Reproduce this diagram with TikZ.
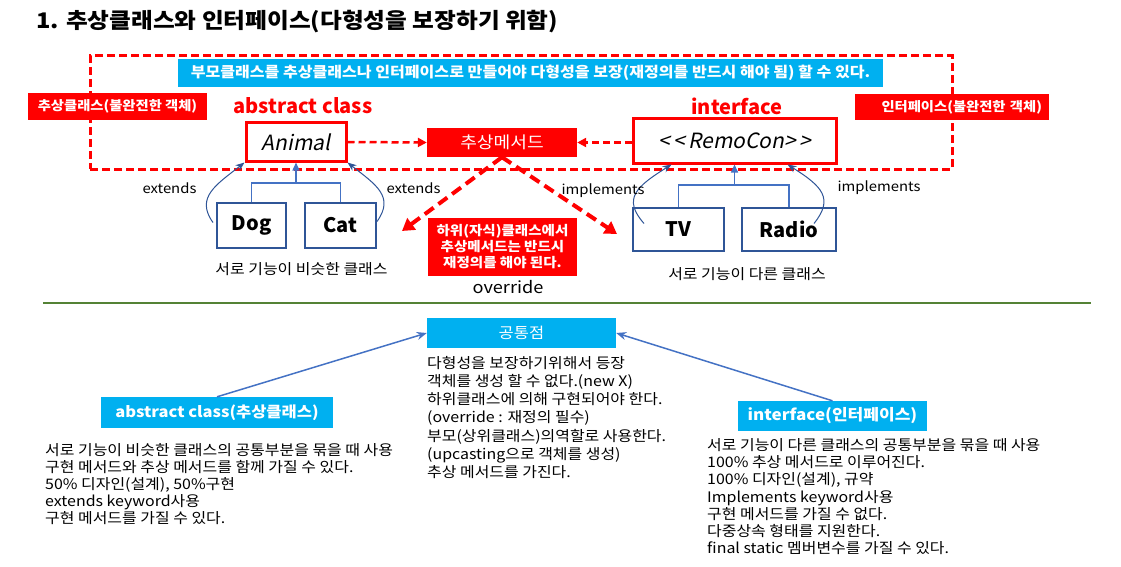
\documentclass[tikz,border=0pt]{standalone}
\usepackage{fontspec}
\setmainfont{Noto Sans CJK KR}[FakeStretch=1.1,ItalicFont={Noto Sans CJK KR},ItalicFeatures={FakeSlant=0.2},BoldItalicFeatures={FakeSlant=0.2}]
\newfontfamily\latfont{Noto Sans CJK KR}[ItalicFont={Noto Sans CJK KR},ItalicFeatures={FakeSlant=0.2},BoldItalicFeatures={FakeSlant=0.2}]
\usetikzlibrary{arrows.meta,calc}
\definecolor{pptred}{RGB}{255,0,0}
\definecolor{pptblue}{RGB}{0,176,240}
\definecolor{boxblue}{RGB}{47,85,151}
\definecolor{linkblue}{RGB}{68,114,196}
\definecolor{sepgreen}{RGB}{84,130,53}
\newcommand\fsz[2]{\fontsize{#1pt}{#2pt}\selectfont}
\begin{document}
\begin{tikzpicture}[x=1pt,y=-1pt,
  plain/.style={inner sep=0pt,text=black},
  redlabel/.style={fill=pptred,text=white,inner sep=0pt,font=\fsz{13}{16}\bfseries},
  bluelabel/.style={fill=pptblue,text=white,inner sep=0pt},
  classbox/.style={draw=pptred,line width=3pt,fill=white,inner sep=0pt,font=\latfont\fsz{21}{24}\itshape},
  subbox/.style={draw=boxblue,line width=2pt,fill=white,inner sep=0pt,font=\latfont\fsz{20}{24}\bfseries},
  frame/.style={draw=pptred,line width=3pt,dash pattern=on 8pt off 4pt,inner sep=0pt},
  reddash/.style={draw=pptred,line width=2.5pt,dash pattern=on 7pt off 4pt,-{Triangle[length=9pt,width=9pt]}},
  bigdash/.style={draw=pptred,line width=4pt,dash pattern=on 11pt off 6pt,-{Triangle[length=12pt,width=14pt]}},
  tree/.style={draw=linkblue,line width=1.5pt},
  treearrow/.style={draw=linkblue,line width=1.5pt,-{Triangle[length=8pt,width=7pt]}},
  curvearrow/.style={draw=boxblue,line width=1pt,-{Stealth[length=9pt,width=7pt]}},
  linkarrow/.style={draw=linkblue,line width=1.5pt,-{Stealth[length=10pt,width=8pt]}},
  body/.style={plain,align=left,anchor=north west}
]
\path[use as bounding box] (0,0) rectangle (1121,567);

% title
\node[plain,anchor=west,font=\fsz{21.5}{25}\bfseries] (title) at (36,22) {1. 추상클래스와 인터페이스(다형성을 보장하기 위함)};

% frame and banner
\node[frame,minimum width=862pt,minimum height=113pt] (frame) at (521,112.5) {};
\node[bluelabel,minimum width=705pt,minimum height=28pt,font=\fsz{14.6}{17}\bfseries] (banner) at (530.5,73) {부모클래스를 추상클래스나 인터페이스로 만들어야 다형성을 보장(재정의를 반드시 해야 됨) 할 수 있다.};
\node[redlabel,minimum width=179pt,minimum height=27pt] (lablabel) at (117.5,106.5) {추상클래스(불완전한 객체)};
\node[redlabel,minimum width=194pt,minimum height=26pt,text width=180pt,align=right] (riflabel) at (952,107) {인터페이스(불완전한 객체)};

\node[plain,text=pptred,font=\latfont\fsz{20}{23}\bfseries] (abstitle) at (303,106) {abstract class};
\node[plain,text=pptred,font=\latfont\fsz{20}{23}\bfseries] (iftitle) at (737,106) {interface};

\node[classbox,minimum width=100pt,minimum height=38pt] (animal) at (296,142) {Animal};
\node[fill=pptred,text=white,inner sep=0pt,minimum width=150pt,minimum height=29pt,font=\fsz{16.5}{20}] (absmeth) at (502,142.5) {추상메서드};
\node[classbox,minimum width=203pt,minimum height=44pt] (remocon) at (734.5,141) {<\,<\,RemoCon>\,>};

\draw[reddash] (animal.east) -- (absmeth.west);
\draw[reddash] (remocon.west |- absmeth.east) -- (absmeth.east);

% subclasses
\node[subbox,minimum width=69pt,minimum height=45pt] (dog) at (251.5,225.5) {Dog};
\node[subbox,minimum width=71pt,minimum height=45pt] (cat) at (340.5,225.5) {Cat};
\node[subbox,minimum width=91pt,minimum height=43pt] (tv) at (678.5,229.5) {TV};
\node[subbox,minimum width=94pt,minimum height=43pt] (radio) at (789,229.5) {Radio};

\coordinate (j1) at (296,183);
\coordinate (j2) at (734.5,185);
\draw[tree] (dog.north) |- (j1) -| (cat.north);
\draw[treearrow] (j1) -- (animal.south);
\draw[tree] (tv.north) |- (j2) -| (radio.north);
\draw[treearrow] (j2) -- (remocon.south);

\draw[curvearrow] ($(dog.west)+(-3,-3)$) .. controls +(-18,-25) and +(-28,22) .. (animal.south west);
\draw[curvearrow] ($(cat.east)+(0,-4)$) .. controls +(18,-25) and +(28,22) .. (animal.south east);
\draw[curvearrow] ($(tv.west)+(12,-6)$) .. controls +(-22,-25) and +(-35,22) .. ($(remocon.south west)+(40,0)$);
\draw[curvearrow] ($(radio.east)+(-23,-6)$) .. controls +(20,-25) and +(35,22) .. ($(remocon.south east)+(-50,0)$);

\node[plain,font=\fsz{13.5}{16}] (ext1) at (169.5,188) {extends};
\node[plain,font=\fsz{13.5}{16}] (ext2) at (413.5,188) {extends};
\node[plain,font=\fsz{13.5}{16}] (imp1) at (603,191) {implements};
\node[plain,font=\fsz{13.5}{16}] (imp2) at (879,188) {implements};

\node[plain,font=\fsz{14.5}{17}] (simcls) at (301.5,269) {서로 기능이 비슷한 클래스};
\node[plain,font=\fsz{14.5}{17}] (difcls) at (747,274) {서로 기능이 다른 클래스};

% override note
\node[fill=pptred,text=white,inner sep=0pt,minimum width=149pt,minimum height=58pt,align=center,font=\fsz{13.2}{16}\bfseries] (note) at (502.5,247) {하위(자식)클래스에서\\추상메서드는 반드시\\재정의를 해야 된다.};
\node[plain,font=\fsz{16.5}{20}] (override) at (508,287) {override};

\coordinate (leftend) at (402,231);
\coordinate (rightend) at (617,234);
\draw[bigdash] (absmeth.south) -- (leftend);
\draw[bigdash] (absmeth.south) -- (rightend);

% separator
\coordinate (sepL) at (43,303);
\coordinate (sepR) at (1091,303);
\draw[sepgreen,line width=1.5pt] (sepL) -- (sepR);

% bottom part
\node[bluelabel,minimum width=189pt,minimum height=30pt,font=\fsz{15}{19}] (common) at (521.5,333) {공통점};
\node[bluelabel,minimum width=232pt,minimum height=31pt,font=\fsz{15}{19}\bfseries] (absbox) at (217,412.5) {abstract class(추상클래스)};
\node[bluelabel,minimum width=189pt,minimum height=30pt,font=\fsz{15.5}{19}\bfseries] (ifbox) at (832.5,416) {interface(인터페이스)};

\draw[linkarrow] (absbox.north) -- (common.west);
\draw[linkarrow] (ifbox.north) -- (common.east);

\node[body,font=\fsz{14.5}{18.2}] (commontext) at (427,356) {다형성을 보장하기위해서 등장\\객체를 생성 할 수 없다.(new X)\\하위클래스에 의해 구현되어야 한다.\\(override : 재정의 필수)\\부모(상위클래스)의역할로 사용한다.\\(upcasting으로 객체를 생성)\\추상 메서드를 가진다.};

\node[body,font=\fsz{14.5}{17}] (abstext) at (45,443) {서로 기능이 비슷한 클래스의 공통부분을 묶을 때 사용\\구현 메서드와 추상 메서드를 함께 가질 수 있다.\\50\% 디자인(설계), 50\%구현\\extends keyword사용\\구현 메서드를 가질 수 있다.};

\node[body,font=\fsz{14.5}{17.3}] (iftext) at (707,438) {서로 기능이 다른 클래스의 공통부분을 묶을 때 사용\\100\% 추상 메서드로 이루어진다.\\100\% 디자인(설계), 규약\\Implements keyword사용\\구현 메서드를 가질 수 없다.\\다중상속 형태를 지원한다.\\final static 멤버변수를 가질 수 있다.};
\end{tikzpicture}
\end{document}
